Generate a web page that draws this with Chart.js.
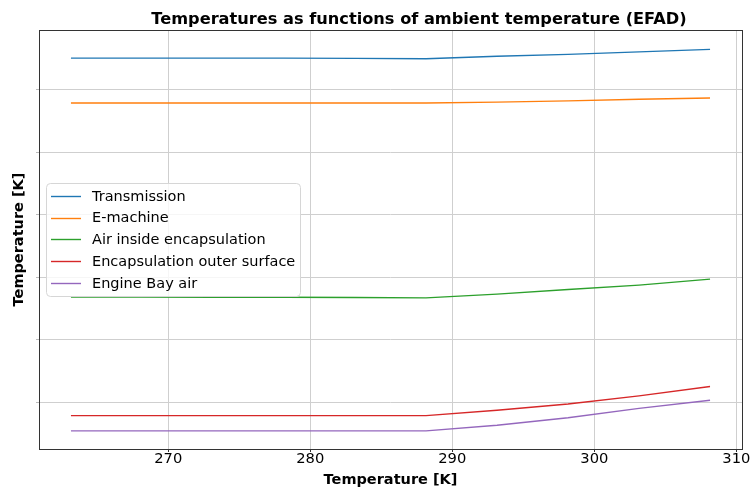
<!DOCTYPE html>
<html>
<head>
<meta charset="utf-8">
<script src="https://cdn.jsdelivr.net/npm/chart.js"></script>
<style>
    html, body { margin: 0; padding: 0; background: #fff; }
    #wrap { width: 751px; height: 489px; }
</style>
</head>
<body>
<div id="wrap"><canvas id="line-chart" width="751" height="489"></canvas></div>
<script>
// ambient temperature [K], -10 .. 35 degC
const ambient = [263.15, 268.15, 273.15, 278.15, 283.15, 288.15, 293.15, 298.15, 303.15, 308.15];

const transmission = [355.1, 355.1, 355.1, 355.1, 355.05, 355.0, 355.4, 355.7, 356.1, 356.5];
const eMachine     = [347.9, 347.9, 347.9, 347.9, 347.9, 347.9, 348.05, 348.25, 348.5, 348.7];
const airInside    = [316.85, 316.83, 316.81, 316.79, 316.75, 316.7, 317.3, 318.05, 318.75, 319.7];
const outerSurface = [297.85, 297.85, 297.85, 297.85, 297.85, 297.85, 298.7, 299.7, 301.0, 302.5];
const bayAir       = [295.4, 295.4, 295.4, 295.4, 295.4, 295.4, 296.3, 297.5, 299.0, 300.3];

const seriesNames = ['Transmission', 'E-machine', 'Air inside encapsulation',
    'Encapsulation outer surface', 'Engine Bay air'];
const seriesColors = ['#1f77b4', '#ff7f0e', '#2ca02c', '#d62728', '#9467bd'];

const xTicks = [270, 280, 290, 300, 310];
const yTicks = [300, 310, 320, 330, 340, 350];

const chartTitle = 'Temperatures as functions of ambient temperature (EFAD)';

const FONT = "'DejaVu Sans', sans-serif";

function series(values) {
    return values.map((v, i) => ({x: ambient[i], y: v}));
}

const datasets = [transmission, eMachine, airInside, outerSurface, bayAir].map((vals, i) => ({
    label: seriesNames[i],
    data: series(vals),
    borderColor: seriesColors[i],
    backgroundColor: seriesColors[i],
    borderWidth: 1.4,
    pointRadius: 0,
    tension: 0
}));

// title, frame around the plot and a matplotlib-like legend inside the axes
const framePlugin = {
    id: 'frame',
    afterDraw(chart) {
        const {ctx, chartArea: a} = chart;
        ctx.save();
        ctx.strokeStyle = '#333';
        ctx.lineWidth = 1;
        ctx.strokeRect(Math.round(a.left) + 0.5, Math.round(a.top) + 0.5,
            Math.round(a.right - a.left), Math.round(a.bottom - a.top));

        ctx.font = 'bold 16.2px ' + FONT;
        ctx.fillStyle = '#000';
        ctx.textAlign = 'center';
        ctx.textBaseline = 'middle';
        ctx.fillText(chartTitle, 419, 20);

        // legend box
        const bx = 46.5, by = 183.5, bw = 254, bh = 113, r = 4;
        ctx.beginPath();
        ctx.moveTo(bx + r, by);
        ctx.arcTo(bx + bw, by, bx + bw, by + bh, r);
        ctx.arcTo(bx + bw, by + bh, bx, by + bh, r);
        ctx.arcTo(bx, by + bh, bx, by, r);
        ctx.arcTo(bx, by, bx + bw, by, r);
        ctx.closePath();
        ctx.fillStyle = 'rgba(255,255,255,0.8)';
        ctx.fill();
        ctx.strokeStyle = '#d6d6d6';
        ctx.stroke();

        ctx.font = '14.5px ' + FONT;
        ctx.textAlign = 'left';
        chart.data.datasets.forEach((ds, i) => {
            const y = 196 + i * 21.7;
            ctx.strokeStyle = ds.borderColor;
            ctx.lineWidth = 1.4;
            ctx.beginPath();
            ctx.moveTo(51, Math.round(y) + 0.5);
            ctx.lineTo(81, Math.round(y) + 0.5);
            ctx.stroke();
            ctx.fillStyle = '#000';
            ctx.fillText(ds.label, 92, y + 1);
        });
        ctx.restore();
    }
};

new Chart(document.getElementById('line-chart'), {
    type: 'line',
    data: {datasets: datasets},
    options: {
        responsive: false,
        animation: false,
        layout: {padding: {left: 0, right: 9, top: 30, bottom: 0}},
        plugins: {
            legend: {display: false},
            tooltip: {enabled: false},
            title: {display: false}
        },
        scales: {
            x: {
                type: 'linear',
                min: 260.9,
                max: 310.4,
                afterBuildTicks: s => { s.ticks = xTicks.map(v => ({value: v})); },
                afterFit: s => { s.height = 40; },
                border: {display: false},
                grid: {color: '#cfcfcf', tickLength: 3, tickColor: '#333'},
                ticks: {
                    color: '#000',
                    padding: -2,
                    maxRotation: 0,
                    font: {family: FONT, size: 14.7},
                    callback: v => v
                },
                title: {
                    display: true,
                    text: 'Temperature [K]',
                    color: '#000',
                    font: {family: FONT, size: 14.5, weight: 'bold'},
                    padding: {top: 0, bottom: 0}
                }
            },
            y: {
                min: 292.5,
                max: 359.6,
                afterBuildTicks: s => { s.ticks = yTicks.map(v => ({value: v})); },
                afterFit: s => { s.width = 39; },
                border: {display: false},
                grid: {color: '#cfcfcf', tickLength: 3, tickColor: '#bbb'},
                ticks: {display: true, callback: () => ''},
                title: {
                    display: true,
                    text: 'Temperature [K]',
                    color: '#000',
                    font: {family: FONT, size: 14.5, weight: 'bold'},
                    padding: {top: 11, bottom: 0}
                }
            }
        }
    },
    plugins: [framePlugin]
});
</script>
</body>
</html>
